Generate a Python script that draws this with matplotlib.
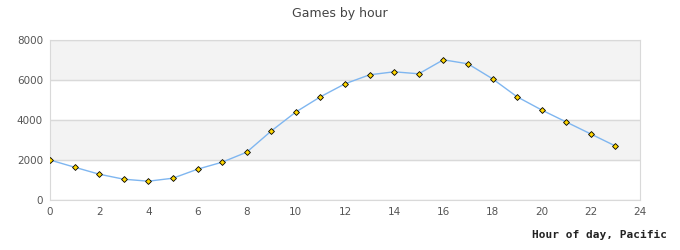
import matplotlib
matplotlib.use("Agg")
import matplotlib.pyplot as plt

# Games per hour of day (Pacific)
hours = list(range(24))
games = [2000, 1640, 1290, 1040, 940, 1090, 1540, 1890, 2390, 3450, 4400, 5160,
         5810, 6260, 6410, 6310, 7010, 6810, 6060, 5160, 4500, 3900, 3300, 2700]
x_ticks = list(range(0, 25, 2))
y_ticks = [0, 2000, 4000, 6000, 8000]

fig = plt.figure(figsize=(6.8, 2.5), dpi=100)
ax = fig.add_axes([50/680, 0.2, 590/680, 0.64])

# alternating bands between gridlines
for i in range(len(y_ticks) - 1):
    if i % 2 == 1:
        ax.axhspan(y_ticks[i], y_ticks[i + 1], color='#f3f3f3', zorder=0)
for y in y_ticks:
    ax.axhline(y, color='#d9d9d9', lw=1, zorder=1)

ax.plot(hours, games, color='#7fb6f0', lw=1, zorder=2)
ax.plot(hours, games, ls='none', marker='D', ms=3, mfc='#ffd700',
        mec='black', mew=0.6, zorder=3)

ax.set_xlim(0, 24)
ax.set_ylim(0, 8000)
ax.set_xticks(x_ticks)
ax.set_yticks(y_ticks)
ax.tick_params(length=0, labelsize=7.5, colors='#555555', pad=5)
for s in ax.spines.values():
    s.set_color('#d9d9d9')

fig.text(340/680, 1 - 13/250, "Games by hour", ha='center', va='center',
         fontsize=9, color='#444444')
fig.text(667/680, 1 - 235/250, "Hour of day, Pacific", ha='right', va='center',
         fontsize=8, fontweight='bold', family='DejaVu Sans Mono', color='#222222')

fig.savefig("out.png", dpi=100)
